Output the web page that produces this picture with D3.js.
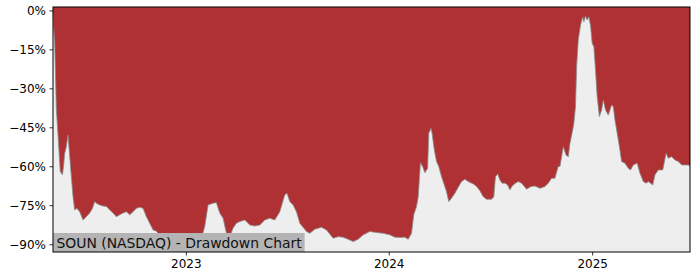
<!DOCTYPE html>
<html>
<head>
<meta charset="utf-8">
<script src="https://cdn.jsdelivr.net/npm/d3@7"></script>
<style>
  body { margin: 0; background: #fff; }
  text { font-family: "DejaVu Sans", sans-serif; }
</style>
</head>
<body>
<div id="chart"></div>
<script>
const title = "SOUN (NASDAQ) - Drawdown Chart";

const dates = [
  "2022-05-07", "2022-05-08", "2022-05-10", "2022-05-13", "2022-05-16", "2022-05-20",
  "2022-05-24", "2022-05-26", "2022-05-28", "2022-05-31", "2022-06-03", "2022-06-06",
  "2022-06-09", "2022-06-12", "2022-06-15", "2022-06-19", "2022-06-24", "2022-06-30",
  "2022-07-06", "2022-07-12", "2022-07-17", "2022-07-21", "2022-07-24", "2022-07-30",
  "2022-08-05", "2022-08-11", "2022-08-17", "2022-08-23", "2022-08-29", "2022-09-04",
  "2022-09-10", "2022-09-16", "2022-09-22", "2022-09-28", "2022-10-04", "2022-10-10",
  "2022-10-16", "2022-10-22", "2022-10-28", "2022-11-03", "2022-11-09", "2022-11-15",
  "2022-11-27", "2022-12-09", "2022-12-24", "2022-12-30", "2023-01-08", "2023-01-20",
  "2023-01-29", "2023-02-04", "2023-02-10", "2023-02-19", "2023-02-25", "2023-03-03",
  "2023-03-09", "2023-03-15", "2023-03-21", "2023-03-27", "2023-04-02", "2023-04-08",
  "2023-04-17", "2023-04-26", "2023-05-05", "2023-05-14", "2023-05-23", "2023-06-01",
  "2023-06-10", "2023-06-19", "2023-06-28", "2023-07-02", "2023-07-07", "2023-07-13",
  "2023-07-19", "2023-07-25", "2023-08-06", "2023-08-12", "2023-08-21", "2023-09-02",
  "2023-09-11", "2023-09-23", "2023-10-02", "2023-10-11", "2023-10-20", "2023-10-29",
  "2023-11-07", "2023-11-16", "2023-11-28", "2023-12-10", "2023-12-22", "2024-01-03",
  "2024-01-12", "2024-01-21", "2024-01-30", "2024-02-05", "2024-02-11", "2024-02-15",
  "2024-02-20", "2024-02-23", "2024-02-27", "2024-03-02", "2024-03-06", "2024-03-11",
  "2024-03-13", "2024-03-17", "2024-03-19", "2024-03-23", "2024-03-27", "2024-03-31",
  "2024-04-05", "2024-04-10", "2024-04-14", "2024-04-18", "2024-04-23", "2024-04-29",
  "2024-05-05", "2024-05-11", "2024-05-17", "2024-05-23", "2024-06-01", "2024-06-07",
  "2024-06-13", "2024-06-19", "2024-06-25", "2024-07-04", "2024-07-08", "2024-07-11",
  "2024-07-15", "2024-07-19", "2024-07-23", "2024-07-28", "2024-08-02", "2024-08-06",
  "2024-08-10", "2024-08-16", "2024-08-21", "2024-08-27", "2024-09-05", "2024-09-13",
  "2024-09-20", "2024-09-29", "2024-10-08", "2024-10-14", "2024-10-20", "2024-10-26",
  "2024-11-01", "2024-11-04", "2024-11-07", "2024-11-10", "2024-11-15", "2024-11-19",
  "2024-11-22", "2024-11-27", "2024-11-29", "2024-12-02", "2024-12-04", "2024-12-07",
  "2024-12-11", "2024-12-15", "2024-12-17", "2024-12-20", "2024-12-23", "2024-12-26",
  "2024-12-29", "2025-01-01", "2025-01-04", "2025-01-07", "2025-01-10", "2025-01-14",
  "2025-01-18", "2025-01-21", "2025-01-25", "2025-01-30", "2025-02-02", "2025-02-05",
  "2025-02-08", "2025-02-11", "2025-02-15", "2025-02-19", "2025-02-23", "2025-03-01",
  "2025-03-07", "2025-03-11", "2025-03-16", "2025-03-23", "2025-03-28", "2025-04-03",
  "2025-04-08", "2025-04-12", "2025-04-16", "2025-04-20", "2025-04-24", "2025-04-30",
  "2025-05-08", "2025-05-14", "2025-05-18", "2025-05-24", "2025-05-30", "2025-06-05",
  "2025-06-11", "2025-06-17", "2025-06-23", "2025-06-26"
];

const drawdown = [
  0, -6, -12, -38, -48, -62,
  -63.3, -60, -55, -52.5, -48, -56,
  -64, -71.7, -76.8, -76.2, -77.5, -80.7,
  -79.4, -78, -76.2, -73.6, -74.2, -74.9,
  -75.3, -75.5, -76.8, -78, -79.4, -78.7,
  -78, -77.5, -78.7, -77.5, -76.2, -75.8,
  -76.2, -79.4, -81.9, -84.5, -85, -86.5,
  -88.3, -90.3, -91.5, -92.2, -90.9, -90.3,
  -87.7, -83.2, -74.9, -74.2, -74, -78,
  -80, -85.8, -87, -83.8, -81.9, -81.3,
  -80.7, -82.6, -83, -82.6, -80.7, -80,
  -80.7, -77.5, -71, -70.4, -73.6, -74.9,
  -77.5, -81.9, -85.1, -85.8, -84.2, -83.5,
  -84.5, -87.7, -87.1, -87.3, -88.1, -89,
  -88.1, -86.4, -85.1, -85.5, -85.8, -86.4,
  -87.3, -87.4, -87.3, -88.1, -85.8, -78.7,
  -75.5, -71.7, -58.6, -60.1, -62.5, -60.8,
  -47.3, -45.4, -47.3, -53.7, -58.2, -60.1,
  -64, -67.2, -69.8, -73.6, -72.3, -70.4,
  -68.1, -65.9, -65, -65.9, -66.8, -67.8,
  -69.4, -71.7, -72.7, -72.7, -71.7, -64,
  -63, -65.3, -66.5, -66.5, -67.2, -69.1,
  -67.6, -66.5, -65.9, -66.5, -68.8, -67.8,
  -67.6, -68.5, -67.8, -66.5, -64.6, -64.6,
  -60, -60.1, -56.3, -52.5, -55.7, -56.3,
  -51.2, -46, -43.5, -37.1, -21.7, -11.4,
  -5.7, -2.5, -4.4, -2.2, -3.7, -2.5,
  -5.7, -12.7, -14, -23, -33.2, -40.9,
  -38.3, -34.5, -38.3, -40.3, -38.3, -36.4,
  -37.1, -42.2, -47.3, -52.5, -58.2, -58.8,
  -60.8, -61.4, -59.5, -58.8, -62.7, -65.9,
  -66.5, -65.9, -66.5, -67.2, -63.3, -61.4,
  -61.4, -55, -56.9, -56.3, -57.6, -58.2,
  -59.5, -59.5, -59.5, -60
];

const yTicks = [0, -15, -30, -45, -60, -75, -90];
const xTickYears = ["2023", "2024", "2025"];

const width = 700;
const height = 280;
const margin = { top: 7, left: 53, bottom: 28, right: 10 };
const iwidth = width - margin.left - margin.right;
const iheight = height - margin.top - margin.bottom;

const parse = d3.timeParse("%Y-%m-%d");
const data = dates.map((d, i) => ({ date: parse(d), value: drawdown[i] }));

const svg = d3.select("#chart").append("svg")
  .attr("width", width)
  .attr("height", height);

const g = svg.append("g")
  .attr("transform", `translate(${margin.left},${margin.top})`);

const x = d3.scaleTime()
  .domain(d3.extent(data, (d) => d.date))
  .range([0, iwidth]);

const y = d3.scaleLinear().domain([-93, 1.3]).range([iheight, 0]);

// red background, light grey below the drawdown curve
g.append("rect")
  .attr("width", iwidth)
  .attr("height", iheight)
  .attr("fill", "#b03133");

const area = d3.area()
  .x((d) => x(d.date))
  .y0(iheight)
  .y1((d) => y(d.value));

g.append("path")
  .datum(data)
  .attr("fill", "#eeeeee")
  .attr("d", area);

g.append("path")
  .datum(data)
  .attr("fill", "none")
  .attr("stroke", "#8a8a8a")
  .attr("stroke-width", 0.8)
  .attr("d", d3.line().x((d) => x(d.date)).y((d) => y(d.value)));

// label box
const label = g.append("g").attr("transform", `translate(0, ${iheight - 19})`);
const labelText = label.append("text")
  .attr("x", 3.5)
  .attr("y", 14.5)
  .attr("font-size", 13.9)
  .attr("fill", "#111")
  .text(title);
const bw = labelText.node().getComputedTextLength();
label.insert("rect", "text")
  .attr("width", bw + 6.5)
  .attr("height", 19)
  .attr("fill", "#b4b4b4");

// axes
const yAxis = d3.axisLeft(y)
  .tickValues(yTicks)
  .tickSize(3.5)
  .tickPadding(3.5)
  .tickFormat((d) => (d === 0 ? "0%" : "\u2212" + Math.abs(d) + "%"));

const xAxis = d3.axisBottom(x)
  .tickValues(xTickYears.map((s) => parse(s + "-01-01")))
  .tickSize(3.5)
  .tickPadding(3.5)
  .tickFormat(d3.timeFormat("%Y"));

g.append("g")
  .attr("class", "y--axis")
  .call(yAxis);

g.append("g")
  .attr("class", "x--axis")
  .attr("transform", `translate(0, ${iheight})`)
  .call(xAxis);

svg.selectAll(".domain").remove();
svg.selectAll(".tick line").attr("stroke", "#000").attr("stroke-width", 0.8);
svg.selectAll(".tick text")
  .attr("font-size", 12)
  .attr("fill", "#000")
  .style("font-family", "DejaVu Sans, sans-serif");

g.append("rect")
  .attr("width", iwidth)
  .attr("height", iheight)
  .attr("fill", "none")
  .attr("stroke", "#000")
  .attr("stroke-width", 1);
</script>
</body>
</html>
